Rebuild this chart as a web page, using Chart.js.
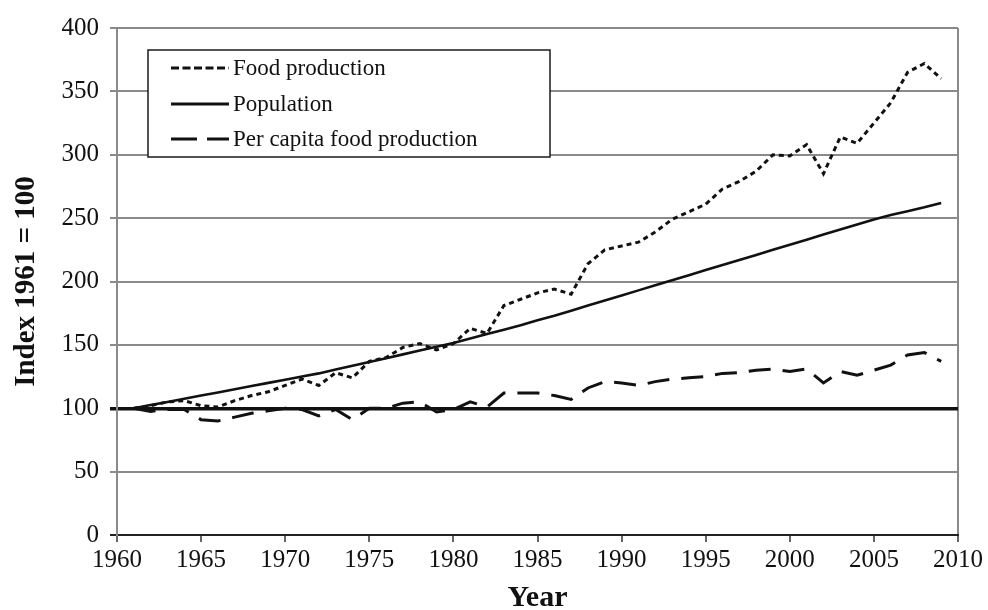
<!DOCTYPE html>
<html>
<head>
<meta charset="utf-8">
<script src="https://cdn.jsdelivr.net/npm/chart.js@4.4.1/dist/chart.umd.min.js"></script>
<style>
  html, body { margin: 0; padding: 0; background: #ffffff; }
  #wrap { width: 988px; height: 610px; }
</style>
</head>
<body>
<div id="wrap"><canvas id="c" width="988" height="610"></canvas></div>
<script>
const years = [1961,1962,1963,1964,1965,1966,1967,1968,1969,1970,
  1971,1972,1973,1974,1975,1976,1977,1978,1979,1980,
  1981,1982,1983,1984,1985,1986,1987,1988,1989,1990,
  1991,1992,1993,1994,1995,1996,1997,1998,1999,2000,
  2001,2002,2003,2004,2005,2006,2007,2008,2009];

const foodProduction = [100,102,105,106,102,101,106,110,113,118,
  123,118,128,124,137,140,148,151,146,151,
  163,159,181,186,191,194,190,214,225,228,
  231,239,249,255,261,273,279,287,300,299,
  308,285,314,309,325,341,365,372,360];

const population = [100,102.5,105,107.5,110,112.5,115,117.5,120,122.5,
  125,127.5,130.5,133.5,136.5,139.5,142.5,145.5,148.5,151.5,
  155,158.5,162,165.5,169.5,173,177,181,185,189,
  193,197,201,205,209,213,217,221,225,229,
  233,237,241,245,249,252.5,255.5,258.5,262];

const perCapitaFood = [100,97.5,99,99,91,90,93,96,98,100,
  99,94,99,91,100,100,104,105,97,99,
  105,101,112,112,112,110,107,116,121,120,
  118,121,123,124,125,127.5,128,130,131,129,
  131,120,129,126,130,134,142,144,137];

const seriesNames = ['Food production', 'Population', 'Per capita food production'];
const xTickValues = [1960,1965,1970,1975,1980,1985,1990,1995,2000,2005,2010];
const yTickValues = [0,50,100,150,200,250,300,350,400];
const yTitle = 'Index 1961 = 100';
const xTitle = 'Year';

const SERIF = '"Liberation Serif", "Times New Roman", Times, serif';
const GRID = '#8a8a8a';

function pts(vals) { return years.map((y, i) => ({ x: y, y: vals[i] })); }

const legendPlugin = {
  id: 'boxLegend',
  afterDatasetsDraw(chart) {
    const ctx = chart.ctx;
    const bx = 148, by = 50, bw = 402, bh = 107;
    ctx.save();
    ctx.fillStyle = '#ffffff';
    ctx.fillRect(bx, by, bw, bh);
    ctx.lineWidth = 1.5;
    ctx.strokeStyle = '#1a1a1a';
    ctx.strokeRect(bx, by, bw, bh);
    const rows = [68, 104, 139];
    const legendDash = [[8, 3.5], [], [26, 10]];
    chart.data.datasets.forEach((ds, i) => {
      const y = rows[i];
      ctx.beginPath();
      ctx.setLineDash(legendDash[i]);
      ctx.lineWidth = 3;
      ctx.strokeStyle = '#111';
      ctx.moveTo(171, y);
      ctx.lineTo(229, y);
      ctx.stroke();
      ctx.setLineDash([]);
      ctx.fillStyle = '#111';
      ctx.font = '23px ' + SERIF;
      ctx.textAlign = 'left';
      ctx.textBaseline = 'middle';
      ctx.fillText(ds.label, 233, y + 1);
    });
    ctx.restore();
  }
};

new Chart(document.getElementById('c'), {
  type: 'line',
  data: {
    datasets: [
      { label: seriesNames[0], data: pts(foodProduction), borderColor: '#111', borderWidth: 3,
        borderDash: [5, 4], pointRadius: 0, tension: 0, fill: false },
      { label: seriesNames[1], data: pts(population), borderColor: '#111', borderWidth: 2.6,
        pointRadius: 0, tension: 0, fill: false },
      { label: seriesNames[2], data: pts(perCapitaFood), borderColor: '#111', borderWidth: 3,
        borderDash: [22, 12], pointRadius: 0, tension: 0, fill: false }
    ]
  },
  options: {
    responsive: false,
    animation: false,
    devicePixelRatio: 1,
    layout: { padding: { left: 0, top: 28, right: 30, bottom: 0 } },
    plugins: { legend: { display: false }, tooltip: { enabled: false } },
    scales: {
      x: {
        type: 'linear', min: 1960, max: 2010,
        afterBuildTicks: s => { s.ticks = xTickValues.map(v => ({ value: v })); },
        afterFit: s => { s.height = 75; },
        border: { display: true, color: '#222', width: 2 },
        grid: {
          drawOnChartArea: true, drawTicks: true, tickLength: 7,
          color: c => (c.tick && c.tick.value === 2010) ? GRID : 'rgba(0,0,0,0)',
          lineWidth: 2, tickColor: '#333', tickWidth: 1.5
        },
        ticks: { padding: 3, color: '#111', font: { family: SERIF, size: 25 }, maxRotation: 0,
          callback: v => String(v) },
        title: { display: true, text: xTitle, color: '#111', padding: 0,
          font: { family: SERIF, size: 30, weight: 'bold', lineHeight: 0.8 } }
      },
      y: {
        type: 'linear', min: 0, max: 400,
        afterBuildTicks: s => { s.ticks = yTickValues.map(v => ({ value: v })); },
        afterFit: s => { s.width = 117; },
        border: { display: true, color: GRID, width: 2 },
        grid: {
          drawTicks: true, tickLength: 7,
          color: c => c.tick.value === 100 ? '#111' : (c.tick.value === 0 ? '#222' : GRID),
          lineWidth: c => c.tick.value === 100 ? 3.5 : 2
        },
        ticks: { padding: 11, color: '#111', font: { family: SERIF, size: 25 },
          callback: v => String(v) },
        title: { display: true, text: yTitle, color: '#111', padding: { top: 12, bottom: 0 },
          font: { family: SERIF, size: 29, weight: 'bold', lineHeight: 1 } }
      }
    }
  },
  plugins: [legendPlugin]
});
</script>
</body>
</html>
